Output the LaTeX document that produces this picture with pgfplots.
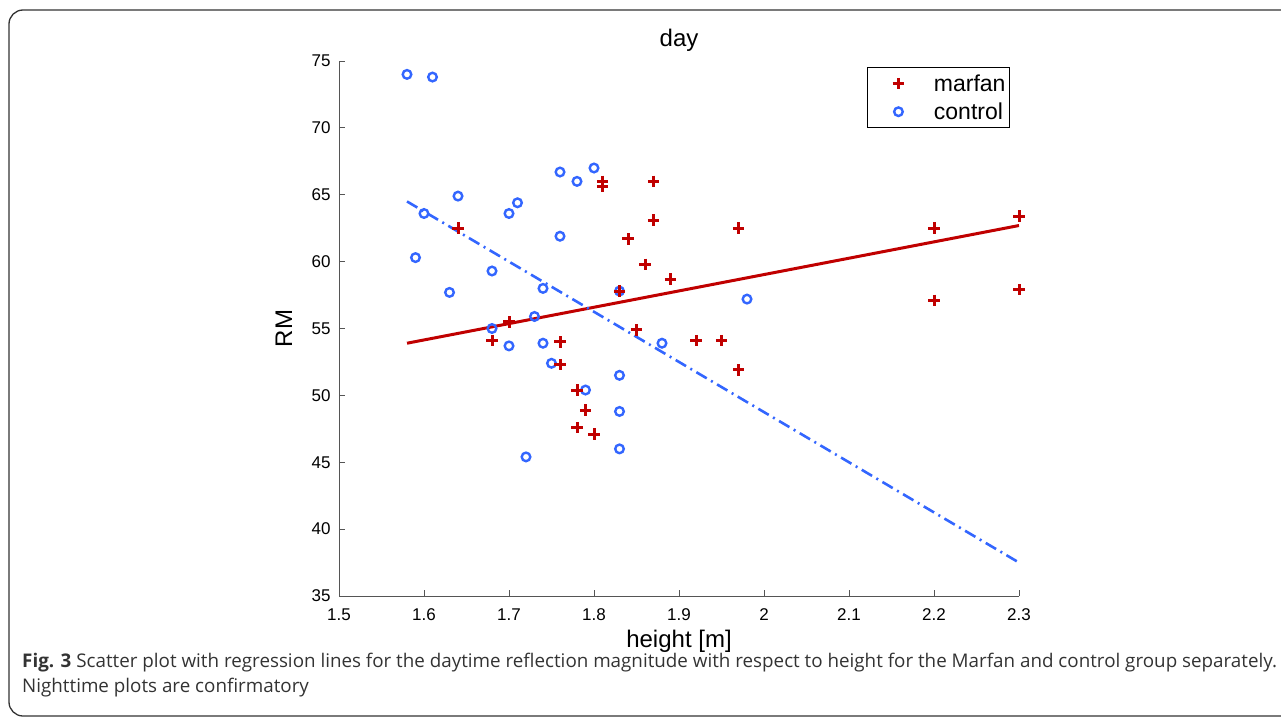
\documentclass[border=0pt]{standalone}
\usepackage{fontspec}
\setmainfont{Liberation Sans}
\newfontfamily\capfont{Open Sans}
\usepackage{pgfplots}
\pgfplotsset{compat=1.18}
\definecolor{mred}{HTML}{C00000}
\definecolor{mblue}{HTML}{3366FF}
\definecolor{axgray}{HTML}{555555}
\definecolor{capgray}{HTML}{333333}
\begin{document}
\begin{tikzpicture}
\path[use as bounding box] (0,0) rectangle (1281pt,-723pt);
\draw[capgray, line width=1.3pt, rounded corners=14pt] (9pt,-10pt) rectangle (1300pt,-716pt);
\begin{axis}[
  at={(339pt,-596pt)}, anchor=south west,
  scale only axis, width=680pt, height=535pt,
  xmin=1.5, xmax=2.3, ymin=35, ymax=75,
  axis x line*=bottom, axis y line*=left,
  axis line style={axgray, line width=1pt},
  tick style={axgray, line width=0.8pt},
  tick align=inside, major tick length=6pt,
  xtick={1.5,1.6,...,2.3}, ytick={35,40,...,75},
  xticklabels={1.5,1.6,1.7,1.8,1.9,2,2.1,2.2,2.3},
  /pgf/number format/assume math mode=true,
  tick label style={font=\fontsize{17}{17}\selectfont, black},
  xticklabel style={yshift=-9pt},
  yticklabel style={xshift=-5pt},
  title={day},
  title style={at={(axis description cs:0.5,1)}, anchor=base, yshift=9pt, font=\fontsize{24}{24}\selectfont},
  xlabel={height [m]},
  xlabel style={at={(axis description cs:0.5,0)}, anchor=base, yshift=-51pt, font=\fontsize{24}{24}\selectfont},
  ylabel={RM},
  ylabel style={at={(axis description cs:-0.0691,0.5)}, rotate=0, anchor=base, font=\fontsize{24}{24}\selectfont},
  legend style={at={(0.9868,0.9888)}, anchor=north east, draw=black, line width=1pt,
    font=\fontsize{23}{23}\selectfont, inner xsep=2pt, inner ysep=5pt, row sep=6pt,
    legend cell align=left},
  legend image code/.code={\path (-27pt,0pt) (32pt,0pt); \draw[#1] plot coordinates {(0pt,0pt)};},
  reverse legend,
]
\addplot[only marks, mark=o, mark size=4.3pt, mblue, line width=2.4pt] coordinates {
(1.58,74.0) (1.61,73.8) (1.64,64.9) (1.60,63.6) (1.59,60.3) (1.63,57.7)
(1.70,63.6) (1.71,64.4) (1.76,66.7) (1.78,66.0) (1.80,67.0) (1.76,61.9)
(1.68,59.3) (1.74,58.0) (1.68,55.0) (1.73,55.9) (1.70,53.7) (1.74,53.9)
(1.75,52.4) (1.79,50.4) (1.83,51.5) (1.83,48.8) (1.83,46.0) (1.72,45.4)
(1.83,57.8) (1.88,53.9) (1.98,57.2)
};
\addlegendentry{control}
\addplot[only marks, mark=+, mark size=5.7pt, mred, line width=3pt] coordinates {
(1.64,62.5) (1.81,66.0) (1.81,65.6) (1.87,66.0) (1.87,63.1) (1.84,61.7)
(1.86,59.8) (1.89,58.7) (1.83,57.8) (1.85,54.9) (1.70,55.5) (1.68,54.1)
(1.76,54.0) (1.76,52.3) (1.78,50.4) (1.79,48.9) (1.78,47.6) (1.80,47.1)
(1.92,54.1) (1.95,54.1) (1.97,62.5) (1.97,51.9) (2.20,62.5) (2.20,57.1)
(2.30,63.4) (2.30,57.9)
};
\addlegendentry{marfan}
\addplot[forget plot, mred, line width=3pt] coordinates {(1.58,53.9) (2.30,62.7)};
\addplot[forget plot, mblue, line width=2.6pt, dash pattern=on 12pt off 5pt on 2pt off 5pt] coordinates {(1.58,64.5) (2.30,37.5)};
\end{axis}
\node[anchor=base west, capgray, inner sep=0pt, font=\capfont\fontsize{18.8}{18.8}\selectfont] at (22pt,-667pt) {\textbf{Fig. 3} Scatter plot with regression lines for the daytime reflection magnitude with respect to height for the Marfan and control group separately.};
\node[anchor=base west, capgray, inner sep=0pt, font=\capfont\fontsize{18.8}{18.8}\selectfont] at (22pt,-692pt) {Nighttime plots are confirmatory};
\end{tikzpicture}
\end{document}
